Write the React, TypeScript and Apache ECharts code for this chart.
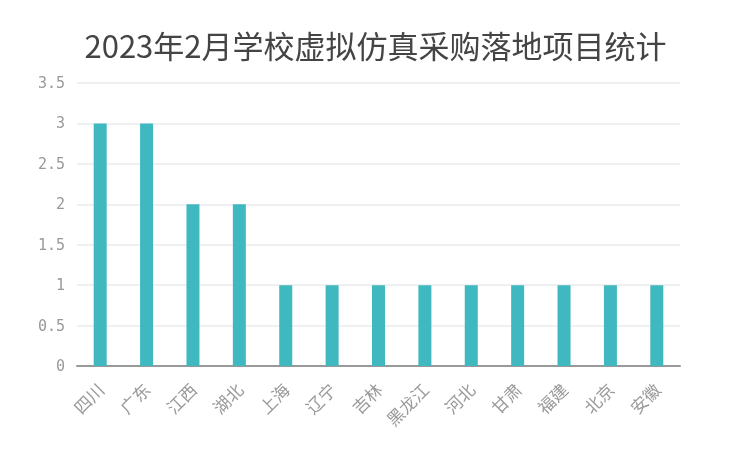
import { useEffect, useRef } from 'react';
import * as echarts from 'echarts';

const provinces = ['四川', '广东', '江西', '湖北', '上海', '辽宁', '吉林', '黑龙江', '河北', '甘肃', '福建', '北京', '安徽'];
const projectCounts = [3, 3, 2, 2, 1, 1, 1, 1, 1, 1, 1, 1, 1];
const titleText = '2023年2月学校虚拟仿真采购落地项目统计';

export default function App() {
  const chartRef = useRef<HTMLDivElement>(null);

  useEffect(() => {
    if (!chartRef.current) return;
    const chart = echarts.init(chartRef.current, null, { renderer: 'svg' });
    chart.setOption({
      animation: false,
      textStyle: { fontFamily: 'Noto Sans CJK SC' },
      title: {
        text: titleText,
        left: 'center',
        top: 24,
        textStyle: { fontSize: 31, fontWeight: 'normal', color: '#444', fontFamily: 'Noto Sans CJK SC' },
      },
      grid: { left: 77, right: 71, top: 83, bottom: 84 },
      xAxis: {
        type: 'category',
        data: provinces,
        axisTick: { show: false },
        axisLine: { lineStyle: { color: '#999', width: 2 } },
        axisLabel: { rotate: 45, color: '#999', fontSize: 17, interval: 0, margin: 20 },
      },
      yAxis: {
        type: 'value',
        min: 0,
        max: 3.5,
        interval: 0.5,
        axisLine: { show: false },
        axisTick: { show: false },
        axisLabel: { color: '#999', fontSize: 15, margin: 12, fontFamily: 'DejaVu Sans Mono' },
        splitLine: { lineStyle: { color: '#eef0f2', width: 2 } },
      },
      series: [
        {
          type: 'bar',
          data: projectCounts,
          barWidth: 13,
          itemStyle: { color: '#3fb8bf' },
        },
      ],
    });
    return () => chart.dispose();
  }, []);

  return <div ref={chartRef} style={{ position: 'fixed', left: 0, top: 0, width: 751, height: 450 }} />;
}
